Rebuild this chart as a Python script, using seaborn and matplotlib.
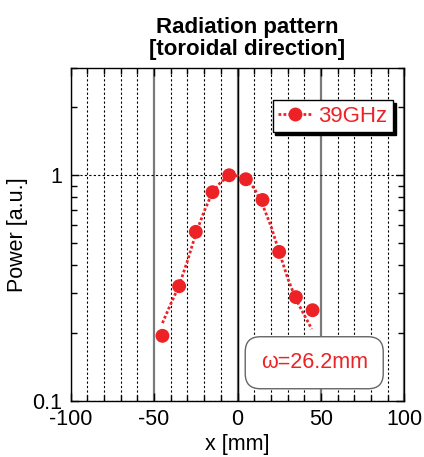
import numpy as np
import pandas as pd
import matplotlib
matplotlib.use('Agg')
import matplotlib.pyplot as plt
from matplotlib.lines import Line2D
from matplotlib.ticker import MultipleLocator, LogLocator, NullFormatter, FuncFormatter
import seaborn as sns

x_medido = [-45, -35, -25, -15, -5, 5, 15, 25, 35, 45]
p_medido = [0.194, 0.322, 0.561, 0.841, 1.0, 0.96, 0.777, 0.457, 0.288, 0.252]

# Curva de ajuste (pontilhada)
x_ajuste = [-45, -40, -35, -30, -25, -20, -15, -10, -5, 0, 5, 10, 15, 20, 25, 30, 35, 40, 44.5]
p_ajuste = [0.221, 0.269, 0.324, 0.417, 0.550, 0.692, 0.841, 0.933, 0.989, 0.995,
            0.955, 0.877, 0.741, 0.596, 0.457, 0.351, 0.282, 0.240, 0.208]

rotulo_serie = '39GHz'
texto_omega = 'ω=26.2mm'
titulo = 'Radiation pattern\n[toroidal direction]'

vermelho = '#ec2227'

sns.set_style('ticks')
plt.rcParams['font.family'] = ['Liberation Sans', 'DejaVu Sans']
plt.rcParams['axes.unicode_minus'] = False
plt.rcParams['text.color'] = 'k'
plt.rcParams['axes.labelcolor'] = 'k'
plt.rcParams['xtick.color'] = 'k'
plt.rcParams['ytick.color'] = 'k'

df_medido = pd.DataFrame({'x': x_medido, 'p': p_medido})
df_ajuste = pd.DataFrame({'x': x_ajuste, 'p': p_ajuste})

fig = plt.figure(figsize=(4.24, 4.57), dpi=100)
ax = fig.add_axes([70.7 / 424, 1 - 400.7 / 457, 333.6 / 424, 333 / 457])

ax.set_yscale('log')
ax.set_xlim(-100, 100)
ax.set_ylim(0.1, 3)

# grade vertical: pontilhada a cada 10, solida em -50/50 (cinza) e 0 (preta)
ax.xaxis.set_major_locator(MultipleLocator(50))
ax.xaxis.set_minor_locator(MultipleLocator(10))
ax.grid(which='minor', axis='x', color='k', ls=(0, (2, 2)), lw=0.8)
ax.grid(which='major', axis='x', color='#7a7a7a', ls='-', lw=1.6)
ax.axvline(0, color='k', lw=1.0, zorder=1)
ax.yaxis.set_major_locator(LogLocator(base=10))
ax.yaxis.set_minor_locator(LogLocator(base=10, subs=np.arange(2, 10)))
ax.yaxis.set_minor_formatter(NullFormatter())
ax.grid(which='major', axis='y', color='k', ls=(0, (2, 2)), lw=0.8)
ax.set_axisbelow(True)

sns.lineplot(data=df_ajuste, x='x', y='p', ax=ax, color=vermelho, lw=2.0,
             linestyle=(0, (1, 0.8)), zorder=3)
sns.scatterplot(data=df_medido, x='x', y='p', ax=ax, color=vermelho, s=100,
                edgecolor='none', zorder=4)

ax.tick_params(which='both', top=True, right=True, direction='in', labelsize=15.5,
               color='k', width=1)
ax.tick_params(which='major', length=6, pad=6)
ax.tick_params(which='minor', length=4)
ax.yaxis.set_major_formatter(FuncFormatter(lambda v, p: f'{v:g}'))

for s in ax.spines.values():
    s.set_color('k')
    s.set_linewidth(1.0)

ax.set_xlabel('x [mm]', fontsize=15.5, labelpad=3)
ax.set_ylabel('Power [a.u.]', fontsize=15.5, labelpad=3)
ax.set_title(titulo, fontsize=16, fontweight='bold', x=0.528, pad=9, linespacing=1.05)

handle = Line2D([], [], color=vermelho, lw=2.0, linestyle=(0, (1, 0.8)),
                marker='o', markersize=10, markeredgecolor='none')
leg = ax.legend([handle], [rotulo_serie], loc='upper right',
                bbox_to_anchor=(0.966, 0.903), borderaxespad=0, fontsize=16,
                labelcolor=vermelho, fancybox=False, framealpha=1,
                edgecolor='k', shadow={'color': 'k', 'alpha': 1},
                handlelength=1.5, handletextpad=0.3, borderpad=0.25,
                numpoints=1)
leg.get_frame().set_linewidth(1.0)

ax.text(0.730, 0.114, texto_omega, transform=ax.transAxes, ha='center', va='center',
        fontsize=15.5, color=vermelho, zorder=5,
        bbox=dict(boxstyle='round,pad=0.72,rounding_size=0.7', fc='white',
                  ec='#666666', lw=1.0))

fig.savefig('out.png', dpi=100)
